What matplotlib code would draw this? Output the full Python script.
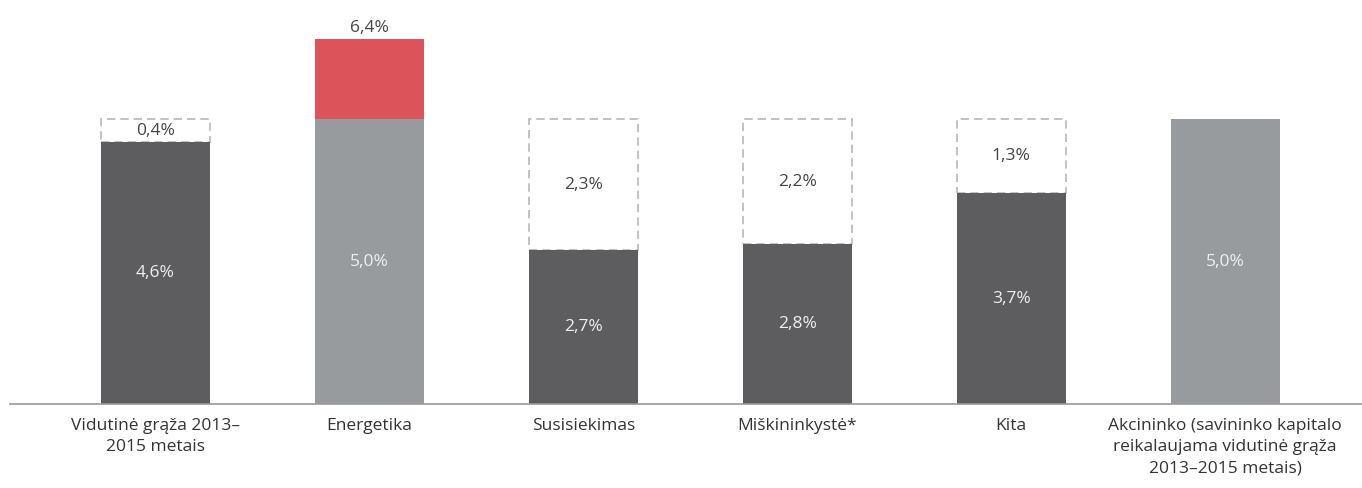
import matplotlib.pyplot as plt
import numpy as np

plt.rcParams['font.family'] = ['Open Sans', 'DejaVu Sans']

categories = ["Vidutinė grąža 2013–\n2015 metais", "Energetika", "Susisiekimas",
              "Miškininkystė*", "Kita",
              "Akcininko (savininko kapitalo\nreikalaujama vidutinė grąža\n2013–2015 metais)"]
base = [4.6, 5.0, 2.7, 2.8, 3.7, 5.0]
gap = [0.4, 0.0, 2.3, 2.2, 1.3, 0.0]      # dashed part up to 5,0%
extra = [0.0, 1.4, 0.0, 0.0, 0.0, 0.0]    # red part above 5,0%
base_labels = ["4,6%", "5,0%", "2,7%", "2,8%", "3,7%", "5,0%"]
gap_labels = ["0,4%", "", "2,3%", "2,2%", "1,3%", ""]
extra_labels = ["", "6,4%", "", "", "", ""]

dark = "#5d5d5f"
light = "#979b9d"
red = "#dc535a"
colors = [dark, light, dark, dark, dark, light]

fig = plt.figure(figsize=(13.62, 4.88), dpi=100)
ax = fig.add_axes([0.0073, 0.172, 0.9927, 0.828])

x = np.arange(len(categories))
w = 0.51

ax.bar(x, base, width=w, color=colors, zorder=2)
ax.bar(x, extra, width=w, bottom=base, color=red, zorder=2)
for i in range(len(x)):
    if gap[i] > 0:
        ax.bar(x[i], gap[i], width=w, bottom=base[i], fill=False,
               edgecolor="#b8b8b8", linestyle=(0, (5, 3)), linewidth=1.2, zorder=1)
        ax.text(x[i], base[i] + gap[i] / 2, gap_labels[i], ha="center", va="center",
                fontsize=12.5, color="#444444")
    ax.text(x[i], base[i] / 2, base_labels[i], ha="center", va="center",
            fontsize=12.5, color="#f0f0f0")
    if extra[i] > 0:
        ax.text(x[i], base[i] + extra[i] + 0.05, extra_labels[i], ha="center", va="bottom",
                fontsize=12.5, color="#444444")

ax.set_xlim(-0.68, 5.64)
ax.set_ylim(0, 7.09)
ax.set_xticks(x)
ax.set_xticklabels(categories, fontsize=12.5, color="#333333", linespacing=1.45)
ax.tick_params(axis="x", length=0, pad=10)
ax.set_yticks([])
for s in ["top", "right", "left"]:
    ax.spines[s].set_visible(False)
ax.spines["bottom"].set_color("#999999")
ax.spines["bottom"].set_linewidth(1.2)

fig.savefig("out.png", dpi=100)
